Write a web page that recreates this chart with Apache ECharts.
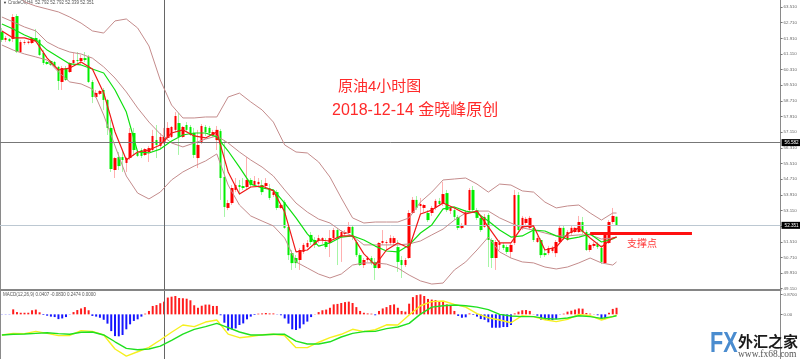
<!DOCTYPE html>
<html>
<head>
<meta charset="utf-8">
<script src="https://cdn.jsdelivr.net/npm/echarts@6/dist/echarts.min.js"></script>
<style>
html,body{margin:0;padding:0;background:#fff;}
#main{width:800px;height:359px;}
</style>
</head>
<body>
<div id="main"></div>
<script>
// 原油4小时 K线
var opens = [62.23,61.83,61.88,61.88,63.05,61.21,61.67,61.67,61.67,61.93,
61.83,61.16,60.70,60.75,60.70,60.45,59.68,60.39,60.19,60.65,
60.80,60.75,60.90,60.96,59.68,58.91,59.07,59.27,58.76,57.33,
55.18,55.84,55.84,55.54,55.79,57.07,56.05,56.20,55.95,56.10,
56.20,56.71,56.41,56.56,56.82,56.87,57.23,57.58,56.87,57.48,
57.38,57.07,55.79,56.56,57.38,57.33,56.97,56.71,57.17,54.82,
53.24,53.49,54.16,54.41,54.36,54.31,54.67,54.41,54.46,54.41,
54.36,54.26,53.90,54.05,53.24,53.54,52.27,50.93,50.68,50.58,
50.99,51.24,51.86,51.60,51.55,51.60,51.50,51.45,51.70,52.11,
51.75,51.91,51.96,52.27,51.50,50.83,50.32,50.58,50.68,50.48,
50.17,51.45,51.45,51.45,51.45,51.24,50.58,50.32,50.68,52.98,
53.65,53.34,53.24,52.98,52.98,53.24,53.60,53.44,54.00,53.09,
53.13,52.78,52.22,52.37,53.13,54.16,53.13,52.73,52.27,52.88,
51.60,50.68,51.35,51.35,51.24,50.99,51.45,53.90,52.22,52.47,
52.22,52.22,51.50,51.60,50.93,50.93,51.04,50.93,51.50,52.22,
51.60,51.96,52.01,52.01,52.52,52.01,51.09,51.30,51.40,51.19,
50.42,51.45,52.52,52.792];
var closes = [61.83,61.93,61.77,63.00,61.21,61.72,61.72,61.74,61.93,61.77,
61.06,60.65,60.60,60.55,60.50,59.73,60.39,59.78,60.65,60.80,
60.75,60.90,60.80,59.68,58.91,59.12,59.22,58.76,57.33,55.23,
55.79,55.38,55.69,55.79,57.07,56.20,55.90,55.90,56.25,56.30,
56.92,56.46,56.87,56.87,57.33,57.38,57.94,56.87,57.38,57.23,
56.97,55.95,56.46,57.43,57.12,57.07,57.12,57.23,54.77,53.29,
53.49,54.26,54.41,54.31,54.26,54.67,54.41,54.62,54.57,54.05,
54.51,53.75,54.05,53.24,53.39,52.22,50.83,50.42,50.42,51.09,
51.35,51.45,51.50,51.35,51.70,51.70,51.24,51.70,52.11,51.70,
52.01,52.01,52.27,51.75,50.83,50.32,50.58,50.68,50.42,50.17,
51.45,51.55,51.50,51.70,51.70,50.48,50.32,50.58,52.98,53.65,
53.24,53.44,53.39,52.62,53.24,53.60,53.44,53.95,53.13,53.24,
52.78,52.22,52.37,53.03,54.16,53.13,52.73,52.11,52.78,51.60,
50.68,51.50,51.45,51.19,50.99,51.35,53.90,52.11,52.73,52.68,
52.73,51.60,51.70,50.83,50.83,51.19,51.19,51.50,52.22,51.70,
52.01,52.22,52.22,52.52,52.01,51.09,51.35,51.40,51.24,50.48,
51.86,52.52,52.83,52.351];
var lows = [61.72,61.72,61.72,61.72,61.16,61.16,61.57,61.60,61.62,61.72,
61.01,60.55,60.55,60.50,60.45,59.27,59.27,59.73,60.14,60.60,
60.60,60.55,60.70,59.63,58.60,58.86,59.01,58.25,56.97,55.08,
54.77,55.18,55.08,55.08,55.69,55.90,55.84,55.79,55.90,55.59,
56.10,55.79,56.30,56.51,56.76,56.82,57.12,55.95,56.82,57.12,
56.92,55.79,55.28,56.51,56.92,56.92,56.87,56.20,53.65,52.78,
53.13,53.39,54.05,53.90,54.16,54.16,54.31,54.36,54.36,53.90,
54.26,53.65,53.80,53.13,53.19,52.17,50.58,50.07,50.17,50.07,
50.89,51.19,51.35,51.19,51.45,51.40,51.14,50.73,51.60,50.32,
50.48,51.81,51.91,51.60,50.73,50.27,50.17,50.48,50.32,49.56,
50.12,51.35,51.09,51.35,51.30,49.97,49.66,50.22,50.63,52.93,
53.13,52.93,53.03,52.52,52.83,53.13,53.34,53.34,53.03,52.93,
52.62,52.11,52.17,52.32,53.03,53.03,52.62,52.01,52.22,50.22,
50.17,50.07,51.09,51.09,50.89,50.68,51.35,52.01,52.11,52.32,
52.11,51.50,51.45,50.68,50.73,50.83,50.93,50.73,51.40,51.60,
51.55,51.86,51.96,51.96,51.91,51.04,50.99,51.19,51.14,50.37,
50.37,51.40,52.42,52.339];
var highs = [62.44,62.03,61.93,63.15,63.15,61.83,61.83,61.80,61.98,62.39,
61.88,61.31,60.75,60.80,60.75,60.50,60.50,60.50,60.70,61.16,
61.21,61.06,61.21,61.06,59.78,59.27,59.27,59.37,58.81,57.74,
55.84,56.10,56.20,55.84,57.33,57.33,56.20,56.30,56.30,56.41,
57.23,57.48,57.07,57.33,57.63,57.43,58.14,58.09,57.43,57.63,
57.48,57.33,57.23,57.53,57.48,57.43,57.23,57.43,57.28,56.71,
53.65,54.41,54.77,54.67,54.77,55.84,54.77,54.87,54.77,54.67,
54.77,54.46,54.16,54.16,53.44,53.65,52.32,51.09,50.83,51.19,
51.45,51.60,52.01,51.75,51.86,51.75,51.70,52.11,52.22,52.22,
52.11,52.11,52.52,52.37,51.60,50.93,50.68,50.78,50.78,50.68,
51.50,52.11,51.60,51.86,51.80,51.60,50.78,50.68,53.13,53.80,
53.85,53.75,53.44,53.13,53.34,53.70,53.75,54.57,54.16,53.34,
53.24,52.88,52.47,53.13,54.26,54.36,53.24,52.88,52.93,52.98,
51.70,51.60,51.60,51.45,51.35,51.45,54.16,54.05,52.83,52.78,
52.83,52.32,51.80,51.70,51.09,51.30,51.30,51.60,52.37,52.32,
52.11,52.32,52.27,52.83,52.78,52.11,51.45,51.50,51.50,51.35,
51.96,52.62,53.24,52.792];

// 指标线每3根读一个点，最后一根补一个
var lineIdx = [0,3,6,9,12,15,18,21,24,27,30,33,36,39,42,45,48,51,54,57,60,63,66,69,72,75,78,81,84,87,90,93,96,99,102,105,108,111,114,117,120,123,126,129,132,135,138,141,144,147,150,153,156,159,162,163];
var bbUpper = [65.15,64.64,63.77,63.56,63.41,63.26,63.00,62.69,62.29,62.18,62.80,62.90,62.44,61.52,59.78,58.50,57.84,57.84,57.89,57.89,58.91,59.11,58.66,58.25,57.63,56.46,56.10,56.05,55.59,54.82,53.75,52.73,52.47,52.52,52.52,52.52,52.73,53.54,54.05,54.67,54.72,54.77,54.46,54.05,54.46,54.41,54.11,54.05,53.54,53.24,53.34,53.39,52.98,52.62,52.98,52.98];
var bbMid = [63.00,62.75,62.49,62.29,61.72,61.42,61.21,61.11,60.90,60.45,59.88,59.17,58.35,57.63,57.02,56.56,56.36,56.56,56.76,56.92,56.56,56.10,55.69,55.33,54.87,54.16,53.49,53.03,52.67,52.47,52.06,51.81,51.35,51.35,51.35,51.35,51.40,51.55,51.86,52.16,52.62,52.98,53.08,53.08,52.73,52.47,52.22,52.11,51.96,51.81,51.81,51.86,51.86,51.65,51.70,51.75];
var bbLower = [61.57,61.31,61.11,60.96,60.80,60.19,59.68,59.58,59.32,57.99,56.41,54.87,54.00,53.70,54.05,54.67,55.08,55.38,55.64,56.00,54.41,53.39,52.83,52.57,52.32,51.70,50.48,50.17,49.86,49.66,49.86,50.32,50.43,50.43,50.37,50.17,49.81,49.51,49.35,49.40,50.07,50.48,51.09,51.75,50.99,50.68,50.48,50.43,50.22,50.12,50.22,50.43,50.68,50.43,50.32,50.48];
var maFast = [62.29,61.93,61.93,61.77,60.90,60.29,60.39,60.70,60.34,59.12,57.12,55.69,56.10,56.20,56.46,57.07,57.23,56.92,56.82,57.12,55.08,53.95,54.31,54.36,54.11,53.03,50.99,51.09,51.60,51.55,51.81,51.81,50.89,50.32,51.09,51.45,51.19,52.93,53.13,53.49,53.24,52.93,53.08,52.27,51.45,51.45,52.27,52.32,51.09,51.24,51.91,52.22,51.70,51.24,51.70,51.75];
var maSlow = [62.64,62.39,62.08,61.83,61.31,60.96,60.60,60.55,60.34,60.14,59.27,58.14,56.10,56.05,56.25,56.66,56.97,57.07,57.07,56.87,56.15,55.33,54.46,54.26,54.16,53.49,52.73,51.91,51.29,51.45,51.75,51.81,51.60,51.29,51.04,50.99,51.35,51.96,52.37,53.19,53.29,53.08,52.98,52.57,52.11,51.75,51.81,52.11,52.06,51.81,51.65,51.75,51.91,51.50,51.65,51.75];

var macdHist = [-0.01,-0.01,-0.01,0.22,0.10,0.07,0.07,0.07,0.18,0.21,
0.09,-0.03,-0.06,-0.10,-0.12,-0.21,-0.18,-0.12,-0.01,0.10,
0.19,0.26,0.32,0.18,-0.07,-0.10,-0.15,-0.24,-0.41,-0.74,
-0.96,-0.97,-0.91,-0.66,-0.44,-0.29,-0.22,-0.10,0.03,0.15,
0.37,0.41,0.49,0.56,0.74,0.78,0.81,0.72,0.71,0.69,
0.62,0.40,0.29,0.38,0.43,0.43,0.37,0.37,-0.04,-0.37,
-0.71,-0.66,-0.62,-0.47,-0.40,-0.22,-0.10,-0.03,0.03,0.04,
0.06,0.04,0.04,-0.01,-0.04,-0.18,-0.41,-0.66,-0.69,-0.62,
-0.44,-0.32,-0.12,0.01,0.10,0.18,0.21,0.29,0.44,0.46,
0.50,0.54,0.56,0.50,0.32,0.15,0.07,0.04,0.03,-0.04,
0.15,0.26,0.32,0.41,0.44,0.29,0.15,0.12,0.47,0.76,
0.85,0.88,0.81,0.68,0.65,0.63,0.59,0.59,0.44,0.37,
0.15,-0.07,-0.15,-0.13,0.04,-0.03,-0.10,-0.21,-0.24,-0.35,
-0.59,-0.59,-0.59,-0.56,-0.56,-0.47,0.04,0.12,0.18,0.19,
0.15,0.01,-0.06,-0.24,-0.24,-0.26,-0.26,-0.21,-0.01,0.03,
0.12,0.16,0.21,0.26,0.25,0.06,0.03,0.01,-0.04,-0.22,
-0.21,0.07,0.24,0.29];
var macdMain = [-0.91,-0.84,-0.85,-0.75,-0.84,-0.94,-0.93,-0.72,-0.75,-0.91,-1.53,-1.84,-1.65,-1.46,-1.13,-0.79,-0.47,-0.54,-0.34,-0.25,-0.87,-1.03,-0.98,-0.90,-0.88,-0.94,-1.47,-1.47,-1.23,-1.03,-0.88,-0.66,-0.76,-0.68,-0.46,-0.47,-0.03,0.38,0.56,0.59,0.44,0.32,0.03,-0.15,-0.25,-0.37,-0.06,-0.10,-0.24,-0.32,-0.22,0,-0.06,-0.25,-0.10,-0.03];
var macdSignal = [-0.91,-0.88,-0.87,-0.84,-0.81,-0.85,-0.88,-0.79,-0.78,-0.91,-1.21,-1.50,-1.56,-1.53,-1.40,-1.15,-0.87,-0.66,-0.54,-0.40,-0.59,-0.78,-0.91,-0.91,-0.88,-0.88,-1.18,-1.31,-1.31,-1.21,-1.00,-0.84,-0.76,-0.75,-0.63,-0.56,-0.40,0.01,0.32,0.38,0.41,0.38,0.32,0.21,0,-0.07,-0.10,-0.10,-0.18,-0.21,-0.16,-0.06,-0.10,-0.18,-0.10,-0.06];

var priceTicks = [63.51,62.71,61.91,61.11,60.31,59.51,58.71,57.91,57.11,56.31,55.51,54.71,53.91,53.11,52.31,51.51,50.71,49.91,49.11];
var macdTicks = [0.87,0];
var lastPrice = 52.351;
var crossPrice = 56.582;
var supportPrice = 51.97;
var crossIdx = 43;
var supportFrom = 156;
var supportTo = 183;
var slotCount = 207;

var slots = [];
for (var i = 0; i < slotCount; i++) { slots.push(String(i)); }

function pairs(values) {
    return values.map(function (v, k) { return [lineIdx[k], v]; });
}
function thinLine(name, values, color, width, xi, yi) {
    return {
        name: name, type: 'line', xAxisIndex: xi, yAxisIndex: yi, data: pairs(values),
        showSymbol: false, smooth: false, silent: true, z: 5,
        lineStyle: { color: color, width: width }
    };
}

var wickData = opens.map(function (o, k) { return [o, closes[k], lows[k], highs[k]]; });
var bodyData = opens.map(function (o, k) {
    return [o, closes[k], Math.min(o, closes[k]), Math.max(o, closes[k])];
});

var myChart = echarts.init(document.getElementById('main'));

var labelFont = 'Liberation Sans';
var option = {
    animation: false,
    backgroundColor: '#fff',
    grid: [
        { left: -1.2, top: 0, width: 784.2, height: 290 },
        { left: -1.2, top: 291, width: 784.2, height: 68 }
    ],
    xAxis: [
        { type: 'category', gridIndex: 0, data: slots, axisTick: { show: false }, axisLabel: { show: false },
          axisLine: { lineStyle: { color: '#858585', width: 2 } }, splitLine: { show: false } },
        { type: 'category', gridIndex: 1, data: slots, axisTick: { show: false }, axisLabel: { show: false },
          axisLine: { show: false }, splitLine: { show: false } }
    ],
    yAxis: [
        { type: 'value', gridIndex: 0, position: 'right', min: 49.045, max: 63.87, scale: true,
          axisLine: { show: true, lineStyle: { color: '#8a8a8a', width: 1 } },
          axisTick: { show: true, length: 2, lineStyle: { color: '#777' }, customValues: priceTicks },
          axisLabel: { customValues: priceTicks, margin: 3, fontSize: 4.4, fontFamily: labelFont, color: '#666',
              formatter: function (v) { return v.toFixed(3); } },
          splitLine: { show: false } },
        { type: 'value', gridIndex: 1, position: 'right', min: -1.97, max: 1.03, scale: true,
          axisLine: { show: true, lineStyle: { color: '#8a8a8a', width: 1 } },
          axisTick: { show: true, length: 2, lineStyle: { color: '#777' }, customValues: macdTicks },
          axisLabel: { customValues: macdTicks, margin: 3, fontSize: 4.4, fontFamily: labelFont, color: '#666',
              formatter: function (v) { return v === 0 ? '0.00' : v.toFixed(4); } },
          splitLine: { show: false } }
    ],
    series: [
        {
            name: 'wick', type: 'candlestick', xAxisIndex: 0, yAxisIndex: 0, data: wickData, barWidth: 1, z: 2, silent: true,
            itemStyle: { color: '#ffb0b0', color0: '#a6f5a6', borderColor: '#ffb0b0', borderColor0: '#a6f5a6', borderWidth: 1 },
            markLine: {
                silent: true, symbol: 'none', animation: false,
                data: [
                    { yAxis: crossPrice, lineStyle: { color: '#777', width: 1, type: 'solid' },
                      label: { show: true, position: 'end', distance: 1, formatter: crossPrice.toFixed(3), color: '#fff', backgroundColor: '#000', fontSize: 4.6, fontFamily: labelFont, padding: [1, 3] } },
                    { yAxis: lastPrice, lineStyle: { color: '#bcc8d2', width: 1, type: 'solid' },
                      label: { show: true, position: 'end', distance: 1, formatter: lastPrice.toFixed(3), color: '#fff', backgroundColor: '#000', fontSize: 4.6, fontFamily: labelFont, padding: [1, 3] } },
                    { xAxis: crossIdx, lineStyle: { color: '#666', width: 1, type: 'solid' }, label: { show: false } }
                ]
            }
        },
        {
            name: 'body', type: 'candlestick', xAxisIndex: 0, yAxisIndex: 0, data: bodyData, barWidth: 3, z: 3, silent: true,
            itemStyle: { color: '#ff0000', color0: '#00ee00', borderColor: '#ff0000', borderColor0: '#00ee00', borderWidth: 0 },
            markLine: {
                silent: true, symbol: 'none', animation: false, z: 9,
                label: { show: false },
                data: [[
                    { coord: [supportFrom, supportPrice], lineStyle: { color: '#ff1010', width: 3, type: 'solid' } },
                    { coord: [supportTo, supportPrice] }
                ]]
            }
        },
        thinLine('bbUpper', bbUpper, '#c48c8c', 1, 0, 0),
        thinLine('bbMid', bbMid, '#c48c8c', 1, 0, 0),
        thinLine('bbLower', bbLower, '#c48c8c', 1, 0, 0),
        thinLine('maSlow', maSlow, '#10e010', 1.2, 0, 0),
        thinLine('maFast', maFast, '#f01818', 1.2, 0, 0),
        {
            name: 'macdHist', type: 'bar', xAxisIndex: 1, yAxisIndex: 1, data: macdHist, barWidth: 2, silent: true,
            itemStyle: { color: function (p) { return p.value >= 0 ? '#ff1c1c' : '#1616ff'; } },
            markLine: {
                silent: true, symbol: 'none', animation: false, label: { show: false },
                data: [{ xAxis: crossIdx, lineStyle: { color: '#666', width: 1, type: 'solid' } }]
            }
        },
        thinLine('macdMain', macdMain, '#f6f020', 1.4, 1, 1),
        thinLine('macdSignal', macdSignal, '#20e020', 1.4, 1, 1)
    ],
    graphic: [
        { type: 'rect', silent: true, shape: { x: 0, y: 0, width: 1, height: 359 }, style: { fill: '#8a8a8a' } },
        { type: 'text', silent: true, x: 3, y: 3, style: { text: '▼', fontSize: 4, fill: '#333', verticalAlign: 'middle' } },
        { type: 'text', silent: true, x: 8, y: 3, style: { text: 'CrudeOil,H4  52.792 52.792 52.339 52.351', fontSize: 4.5, fontFamily: labelFont, fill: '#555', verticalAlign: 'middle' } },
        { type: 'text', silent: true, x: 3, y: 295, style: { text: 'MACD(12,26,9) 0.0407 -0.0830 0.2474 0.0000', fontSize: 4.5, fontFamily: labelFont, fill: '#555', verticalAlign: 'middle' } },
        { type: 'text', silent: true, x: 338, y: 87, style: { text: '原油4小时图', fontSize: 15, fontFamily: "'Liberation Sans','Noto Sans CJK SC'", fill: '#ff2a2a', verticalAlign: 'middle' } },
        { type: 'text', silent: true, x: 332, y: 111, style: { text: '2018-12-14 金晓峰原创', fontSize: 16, fontFamily: "'Liberation Sans','Noto Sans CJK SC'", fill: '#ff2a2a', verticalAlign: 'middle' } },
        { type: 'text', silent: true, x: 627, y: 243, style: { text: '支撑点', fontSize: 10, fontFamily: "'Noto Sans CJK SC'", fill: '#ff3a3a', verticalAlign: 'middle' } },
        { type: 'text', silent: true, x: 710, y: 344, scaleX: 0.72, z: 20, style: { text: 'FX', fontSize: 30, fontWeight: 'bold', fontFamily: labelFont, fill: '#4a8ccf', verticalAlign: 'middle' } },
        { type: 'text', silent: true, x: 738, y: 341, z: 20, style: { text: '外汇之家', fontSize: 15, fontWeight: 'bold', fontFamily: "'Noto Sans CJK SC'", fill: '#1a1a1a', verticalAlign: 'middle' } },
        { type: 'text', silent: true, x: 738, y: 354, z: 20, style: { text: 'www.fx68.com', fontSize: 9.5, fontFamily: 'Liberation Serif', fill: '#555', verticalAlign: 'middle' } }
    ]
};
myChart.setOption(option);
</script>
</body>
</html>
